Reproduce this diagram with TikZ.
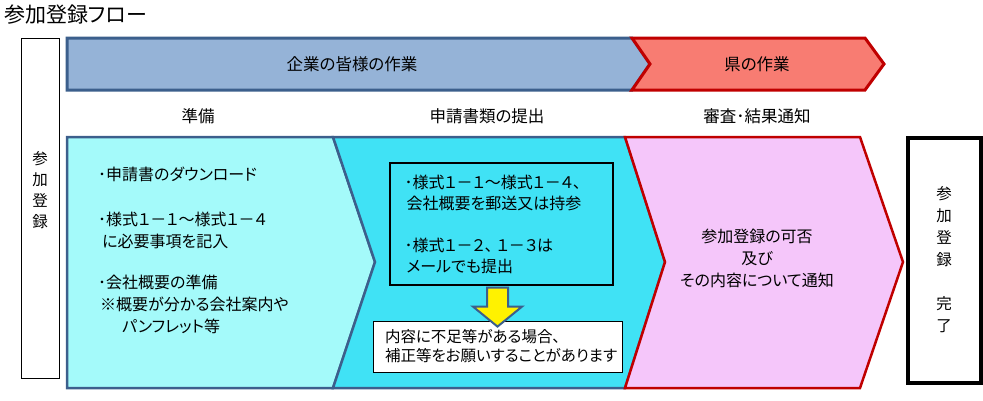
\documentclass[tikz,border=0pt]{standalone}
\usepackage{fontspec}
\setmainfont[RawFeature=+palt]{Noto Sans CJK JP}
\usepackage{xcolor}
\usepackage{tikz}
\usetikzlibrary{positioning,calc}
\definecolor{bandblue}{HTML}{95B3D7}
\definecolor{bandline}{HTML}{3C5F8C}
\definecolor{bandred}{HTML}{F87C72}
\definecolor{kenred}{HTML}{C00000}
\definecolor{prepcyan}{HTML}{A4FAFA}
\definecolor{sendcyan}{HTML}{40E2F5}
\definecolor{checkpink}{HTML}{F5C6FA}

\begin{document}
\begin{tikzpicture}[x=1pt, y=-1pt,
  head/.style={font=\fontsize{16.5}{22}\selectfont, inner sep=0pt},
  body/.style={font=\fontsize{16}{22}\selectfont, inner sep=0pt, align=left},
  vtext/.style={font=\fontsize{15.5}{21}\selectfont, inner sep=0pt, align=center},
  blueband/.style={draw=bandline, fill=bandblue, line width=3pt, line join=miter},
  redband/.style={draw=kenred, fill=bandred, line width=3pt, line join=miter},
  chev/.style={line width=2.5pt, line join=miter},
  regbox/.style={draw=black, line width=0.8pt, minimum width=38pt, minimum height=340pt},
  donebox/.style={draw=black, line width=4pt, minimum width=73pt, minimum height=245pt,
    font=\fontsize{15.5}{22}\selectfont, align=center},
  sendbox/.style={draw=black, line width=2pt, minimum width=223pt, minimum height=122pt,
    text width=194pt, font=\fontsize{16}{21}\selectfont, align=left},
  notebox/.style={draw=black, fill=white, line width=0.8pt, minimum width=249pt,
    minimum height=51pt, text width=225pt, font=\fontsize{15.5}{19}\selectfont, align=left},
  downarrow/.style={draw=bandline, fill=yellow, line width=2pt, line join=miter}
]
  \useasboundingbox (0,0) rectangle (983,400);

  \node[font=\fontsize{21}{22}\selectfont, anchor=west, inner sep=0pt] (title) at (4,15) {参加登録フロー};

  % top bands
  \draw[blueband] (67,38) -- (632,38) -- (650,64) -- (632,90) -- (67,90) -- cycle;
  \draw[redband] (632,38) -- (865,38) -- (884,64) -- (865,90) -- (632,90) -- (650,64) -- cycle;
  \node[head] (company) at (352,64) {企業の皆様の作業};
  \node[head] (ken) at (757,64) {県の作業};

  \node[head] (prep) at (198,116) {準備};
  \node[head] (submit) at (487,116) {申請書類の提出};
  \node[head] (review) at (757,116) {審査･結果通知};

  % chevrons
  \draw[chev, draw=bandline, fill=prepcyan] (67,137) -- (333,137) -- (375,262) -- (333,388) -- (67,388) -- cycle;
  \draw[chev, draw=bandline, fill=sendcyan] (333,137) -- (625,137) -- (665,262) -- (625,388) -- (333,388) -- (375,262) -- cycle;
  \draw[chev, draw=kenred, fill=checkpink] (625,137) -- (860,137) -- (903,262) -- (860,388) -- (625,388) -- (665,262) -- cycle;

  \node[regbox] (reg) at (40,208) {};
  \node[vtext] (regtext) at (40,190) {参\\加\\登\\録};

  \node[body, anchor=north west] (preptext) at (98,167)
    {･申請書のダウンロード\\[23pt]
     ･様式１－１～様式１－４\\
     \hspace{4pt}に必要事項を記入\\[19pt]
     ･会社概要の準備\\
     \hspace{2pt}※概要が分かる会社案内や\\
     \hspace{24pt}パンフレット等};

  \node[sendbox] (send) at (501.5,224)
    {･様式１－１～様式１－４、\\
     \hspace{2pt}会社概要を郵送又は持参\\[21pt]
     ･様式１－２、\hspace{4pt}１－３は\\
     \hspace{2pt}メールでも提出};

  \node[notebox] (note) at (497.5,346.5)
    {内容に不足等がある場合、\\
     補正等をお願いすることがあります};

  \draw[downarrow] ($(note.north)+(-10.5,-33)$) -- ++(21,0) -- ++(0,19) -- ++(14,0)
    -- ($(note.north)+(0,6)$) -- ($(note.north)+(-24.5,-14)$) -- ++(14,0) -- cycle;

  \node[body, align=center] (result) at (757,258)
    {参加登録の可否\\及び\\その内容について通知};

  \node[donebox] (done) at (944,260) {参\\加\\登\\録\\[22pt]完\\了};
\end{tikzpicture}
\end{document}
